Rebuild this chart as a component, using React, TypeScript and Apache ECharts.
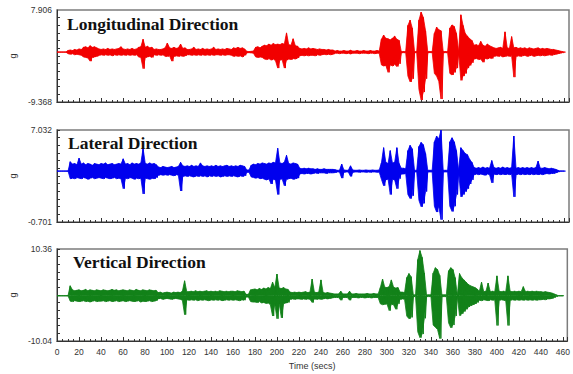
import React, { useEffect, useRef } from "react";
import * as echarts from "echarts";

// time step of the envelope bins (seconds)
const T_STEP = 2;
const X_MAX = 464;
const xTickLabelsEvery = 20;

const panelTitles = ["Longitudinal Direction", "Lateral Direction", "Vertical Direction"];
const yRanges = [
  [-9.368, 7.906],
  [-8.701, 7.032],
  [-10.04, 10.36],
];
const yTickLabels = [
  ["-9.368", "7.906"],
  ["-0.701", "7.032"],
  ["-10.04", "10.36"],
];
const colors = ["#f20000", "#0000ee", "#13821a"];

// Envelope (upper / lower, g), one value per 2 s bin (t = 0 … 460)
const longUp = [
  0, 0, 0, 0, 0, 0.3, 0.4, 0.3, 0.5, 0.4,
  0.6, 0.5, 0.9, 1.0, 0.8, 1.2, 0.9, 1.0, 0.8, 0.6,
  0.5, 0.6, 0.5, 0.7, 0.5, 0.6, 0.5, 0.6, 0.7, 1.0,
  0.6, 0.5, 0.6, 0.5, 0.7, 0.5, 0.6, 0.9, 1.0, 2.4,
  0.9, 1.1, 0.8, 0.9, 0.5, 0.6, 0.5, 0.5, 0.6, 0.8,
  1.7, 0.8, 0.7, 0.9, 0.7, 0.8, 1.5, 0.7, 0.8, 0.5,
  0.5, 0.6, 0.9, 0.5, 0.6, 0.5, 0.7, 0.5, 0.6, 0.5,
  0.6, 0.9, 0.5, 0.6, 0.5, 0.6, 0.5, 0.7, 0.6, 0.5,
  0.8, 0.7, 0.9, 0.7, 0.8, 0.6, 0.15, 0.1, 0.15, 0.2,
  0.9, 1.0, 0.8, 1.1, 1.3, 1.2, 1.5, 1.3, 1.6, 1.4,
  1.5, 1.4, 1.6, 1.5, 3.6, 1.4, 1.3, 2.5, 1.2, 1.1,
  0.7, 0.6, 0.7, 0.6, 0.8, 0.6, 0.7, 0.6, 0.5, 0.6,
  0.5, 0.5, 0.4, 0.5, 0.4, 0.4, 0.2, 0.3, 0.2, 0.2,
  0.3, 0.2, 0.2, 0.35, 0.2, 0.2, 0.3, 0.2, 0.2, 0.3,
  0.2, 0.2, 0.3, 0.2, 0.2, 0.3, 0.2, 2.4, 3.2, 2.6,
  2.5, 2.3, 2.6, 3.0, 2.4, 2.2, 0.1, 0.1, 0.1, 5.0,
  6.0, 4.5, 0.1, 0.1, 6.0, 7.5, 6.5, 4.0, 0.1, 0.1,
  0.1, 3.5, 4.7, 4.2, 4.0, 0.1, 0.1, 0.1, 4.5, 5.1,
  4.8, 3.5, 0.1, 7.0, 5.0, 3.5, 3.0, 2.5, 2.2, 1.3,
  1.4, 1.2, 2.0, 1.3, 1.1, 1.5, 1.2, 1.0, 0.8, 0.7,
  0.8, 0.9, 0.7, 3.8, 0.8, 0.7, 2.9, 0.8, 0.9, 0.7,
  0.8, 0.7, 0.8, 0.6, 0.8, 0.7, 0.6, 0.7, 0.8, 0.6,
  0.7, 0.6, 0.7, 0.6, 0.5, 0.5, 0.4, 0.3, 0.2, 0.1,
  0,
];
const longLo = [
  0, 0, 0, 0, 0, -0.3, -0.4, -0.3, -0.5, -0.4,
  -0.5, -0.6, -0.9, -1.0, -1.1, -1.7, -1.0, -0.9, -0.8, -0.6,
  -0.5, -0.6, -0.5, -0.6, -0.5, -0.7, -0.5, -0.6, -0.5, -0.6,
  -0.5, -0.6, -0.5, -0.6, -0.5, -0.6, -0.5, -0.9, -1.0, -3.1,
  -1.0, -0.9, -0.8, -1.0, -0.5, -0.6, -0.5, -0.6, -0.5, -0.8,
  -0.8, -0.7, -1.7, -0.8, -0.7, -0.8, -0.7, -0.8, -0.7, -0.5,
  -0.5, -0.6, -0.5, -0.6, -0.5, -0.6, -0.5, -0.6, -0.5, -0.6,
  -0.5, -0.6, -0.5, -0.5, -0.6, -0.5, -0.6, -0.5, -0.5, -0.6,
  -0.8, -0.7, -0.8, -0.7, -0.9, -0.6, -0.15, -0.1, -0.15, -0.2,
  -0.9, -1.0, -0.9, -1.0, -1.3, -1.4, -1.2, -1.5, -1.3, -1.6,
  -3.0, -1.5, -1.4, -3.0, -1.5, -1.3, -1.4, -1.2, -1.3, -1.1,
  -0.7, -0.6, -0.7, -0.6, -0.7, -0.6, -0.6, -0.7, -0.5, -0.6,
  -0.5, -0.4, -0.5, -0.4, -0.5, -0.4, -0.2, -0.2, -0.3, -0.2,
  -0.2, -0.3, -0.2, -0.35, -0.2, -0.2, -0.2, -0.3, -0.2, -0.2,
  -0.2, -0.3, -0.2, -0.2, -0.3, -0.2, -0.2, -2.4, -2.6, -2.5,
  -3.8, -2.4, -2.6, -2.3, -2.7, -2.2, -0.1, -0.1, -0.1, -4.5,
  -5.6, -5.0, -0.1, -0.1, -7.0, -9.0, -7.5, -5.0, -0.1, -0.1,
  -0.1, -4.0, -4.5, -5.5, -8.8, -0.1, -0.1, -0.1, -4.0, -4.3,
  -3.8, -3.0, -0.1, -5.3, -4.5, -4.0, -3.0, -2.5, -2.0, -1.3,
  -1.2, -1.4, -1.3, -1.9, -1.2, -1.3, -1.1, -1.2, -0.8, -0.7,
  -0.8, -0.7, -0.9, -0.8, -0.7, -0.8, -0.7, -4.7, -0.8, -0.7,
  -0.8, -0.7, -0.6, -0.8, -0.7, -0.6, -0.8, -0.7, -0.6, -0.7,
  -0.6, -0.7, -0.6, -0.5, -0.6, -0.5, -0.4, -0.3, -0.2, -0.1,
  0,
];

const latUp = [
  0, 0, 0, 0, 0, 0, 1.6, 1.2, 1.3, 1.1,
  2.2, 1.2, 1.4, 1.1, 1.3, 1.2, 1.0, 1.3, 1.2, 1.1,
  1.3, 1.2, 1.4, 1.1, 1.2, 1.3, 1.1, 1.2, 1.3, 1.2,
  2.1, 1.2, 1.3, 1.1, 1.4, 1.2, 1.3, 1.2, 1.4, 3.9,
  1.3, 1.2, 1.4, 1.2, 1.3, 1.1, 0.7, 0.6, 0.8, 0.7,
  0.6, 0.7, 0.8, 0.6, 0.7, 0.8, 1.5, 0.9, 0.8, 0.9,
  0.8, 1.0, 0.8, 0.9, 0.8, 1.4, 0.9, 0.8, 0.9, 0.8,
  0.9, 0.8, 1.0, 0.8, 0.9, 0.8, 0.9, 1.0, 0.8, 0.9,
  0.8, 0.9, 0.8, 1.0, 0.9, 0.8, 0.2, 0.2, 1.0, 1.2,
  1.1, 1.3, 1.2, 1.4, 1.3, 1.2, 1.4, 1.3, 1.5, 1.4,
  3.9, 1.4, 1.3, 1.5, 2.7, 1.3, 1.2, 1.4, 1.3, 1.2,
  0.5, 0.4, 0.5, 0.4, 0.5, 0.4, 0.4, 0.3, 0.4, 0.3,
  0.3, 0.4, 0.3, 0.3, 0.3, 0.3, 0.25, 0.15, 0.15, 1.2,
  0.2, 0.15, 0.15, 0.9, 0.2, 0.15, 0.15, 0.2, 0.15, 0.15,
  0.2, 0.15, 0.15, 0.2, 0.15, 0.15, 0.2, 1.4, 4.0, 1.5,
  1.3, 3.5, 1.4, 1.5, 4.0, 1.3, 0.5, 0.5, 0.4, 3.5,
  4.4, 3.8, 0.15, 0.15, 4.2, 4.9, 4.5, 3.0, 0.15, 0.15,
  0.15, 5.0, 6.0, 5.5, 7.0, 0.15, 0.15, 0.15, 5.0, 5.7,
  5.0, 3.5, 0.15, 4.0, 3.5, 3.0, 2.8, 2.0, 1.5, 0.6,
  0.5, 0.6, 0.5, 0.7, 0.5, 0.6, 0.5, 1.8, 0.6, 0.5,
  0.6, 0.5, 0.7, 0.5, 0.6, 0.5, 0.6, 6.0, 0.5, 0.6,
  0.5, 0.6, 0.5, 0.6, 0.5, 0.6, 0.5, 0.6, 1.7, 0.5,
  0.5, 0.6, 0.5, 0.4, 0.5, 0.4, 0.3, 0.15, 0, 0,
  0,
];
const latLo = [
  0, 0, 0, 0, 0, 0, -1.3, -1.2, -1.3, -1.1,
  -1.2, -1.3, -1.1, -1.2, -1.4, -1.2, -1.1, -1.3, -1.2, -1.1,
  -1.2, -1.3, -1.1, -1.2, -1.3, -1.2, -1.1, -1.3, -1.2, -1.3,
  -3.0, -1.2, -1.3, -1.1, -1.2, -1.4, -1.2, -1.3, -1.2, -3.9,
  -1.2, -1.3, -1.4, -1.2, -1.3, -1.1, -0.7, -0.6, -0.7, -0.6,
  -0.7, -0.6, -0.7, -0.8, -0.6, -0.7, -3.4, -0.9, -0.8, -0.9,
  -0.8, -0.9, -1.0, -0.8, -0.9, -0.8, -0.9, -0.8, -1.0, -0.8,
  -0.9, -0.8, -0.9, -0.8, -1.0, -0.9, -0.8, -0.9, -0.8, -0.9,
  -0.8, -0.9, -1.0, -0.8, -0.9, -0.8, -0.2, -0.2, -1.0, -1.1,
  -1.2, -1.1, -1.3, -1.2, -1.4, -1.5, -1.3, -2.2, -1.4, -1.5,
  -4.0, -1.4, -1.3, -2.5, -1.4, -1.3, -1.2, -1.4, -1.3, -1.2,
  -0.5, -0.4, -0.5, -0.4, -0.4, -0.5, -0.4, -0.3, -0.4, -0.3,
  -0.3, -0.3, -0.4, -0.3, -0.3, -0.3, -0.25, -0.15, -0.15, -1.2,
  -0.2, -0.15, -0.15, -0.9, -0.2, -0.15, -0.15, -0.2, -0.15, -0.15,
  -0.2, -0.15, -0.2, -0.15, -0.15, -0.2, -0.15, -1.4, -2.5, -1.5,
  -1.3, -4.0, -1.4, -1.5, -3.0, -1.3, -0.5, -0.5, -0.4, -4.0,
  -4.7, -4.2, -0.15, -0.15, -5.0, -6.1, -5.5, -3.5, -0.15, -0.15,
  -0.15, -6.0, -7.0, -6.0, -8.3, -0.15, -0.15, -0.15, -6.0, -6.9,
  -6.0, -4.0, -0.15, -4.4, -4.0, -3.5, -3.0, -2.2, -1.5, -0.6,
  -0.5, -0.6, -0.5, -0.6, -0.7, -0.5, -0.6, -2.0, -0.5, -0.6,
  -0.5, -0.6, -0.5, -0.6, -0.5, -0.6, -0.5, -4.4, -0.6, -0.5,
  -0.6, -0.5, -0.6, -0.5, -0.6, -0.5, -0.6, -0.5, -0.6, -0.5,
  -0.6, -0.5, -0.4, -0.5, -0.4, -0.4, -0.3, -0.15, 0, 0,
  0,
];

const vertUp = [
  0, 0, 0, 0, 0, 0, 2.2, 1.3, 1.1, 1.2,
  1.3, 1.1, 1.2, 1.4, 1.1, 1.3, 1.2, 1.1, 1.3, 1.2,
  1.1, 1.3, 1.2, 1.1, 1.2, 1.4, 1.2, 1.3, 1.1, 1.2,
  1.3, 1.2, 1.1, 1.3, 1.2, 1.1, 1.4, 1.2, 1.1, 1.3,
  1.2, 1.1, 1.3, 1.2, 1.1, 1.2, 0.7, 0.8, 0.6, 0.7,
  0.8, 0.7, 0.6, 0.8, 0.7, 0.8, 0.7, 1.0, 3.3, 0.9,
  0.9, 1.0, 0.9, 1.1, 0.9, 1.0, 0.9, 1.0, 1.1, 0.9,
  1.0, 0.9, 1.0, 0.9, 1.1, 1.0, 0.9, 1.0, 0.9, 1.0,
  1.0, 0.9, 1.1, 1.0, 0.9, 1.0, 0.3, 0.3, 1.3, 1.4,
  1.5, 1.3, 1.6, 1.4, 1.7, 1.5, 1.8, 1.6, 3.0, 1.8,
  4.8, 1.7, 1.6, 1.8, 1.5, 1.4, 0.8, 0.7, 0.8, 0.7,
  0.8, 0.7, 0.8, 0.9, 0.7, 0.8, 3.7, 0.8, 0.7, 0.8,
  3.5, 0.7, 0.6, 0.7, 0.6, 0.5, 0.4, 0.4, 0.4, 1.0,
  0.4, 0.4, 0.4, 1.0, 0.4, 0.4, 0.5, 0.4, 0.4, 0.4,
  0.4, 0.5, 0.4, 0.4, 0.5, 0.4, 0.4, 1.8, 3.7, 1.9,
  1.8, 2.0, 3.5, 1.9, 1.7, 1.8, 0.8, 0.8, 0.7, 4.0,
  4.9, 4.2, 0.2, 0.2, 8.0, 10.0, 8.5, 5.0, 0.2, 0.2,
  0.2, 5.0, 6.2, 5.8, 4.5, 0.2, 0.2, 0.2, 5.5, 6.2,
  5.8, 4.0, 0.2, 4.9, 4.0, 3.5, 3.0, 2.5, 2.2, 2.0,
  1.8, 1.5, 1.0, 3.0, 0.9, 1.0, 2.8, 0.9, 1.0, 0.9,
  4.4, 1.0, 0.9, 1.0, 0.9, 4.4, 1.0, 0.9, 1.0, 0.9,
  1.0, 0.9, 2.0, 0.9, 1.0, 0.9, 1.0, 0.9, 1.0, 0.9,
  0.9, 0.8, 0.9, 0.8, 0.7, 0.6, 0.4, 0.2, 0, 0,
  0,
];
const vertLo = [
  0, 0, 0, 0, 0, 0, -1.2, -1.3, -1.1, -1.2,
  -1.3, -1.2, -1.1, -1.3, -1.2, -1.4, -1.2, -1.1, -1.3, -1.2,
  -1.2, -1.1, -1.3, -1.2, -1.1, -1.3, -1.2, -1.1, -1.3, -1.2,
  -1.1, -1.3, -1.2, -1.1, -1.2, -1.3, -1.2, -1.1, -1.4, -1.2,
  -1.3, -1.2, -1.1, -1.3, -1.2, -1.1, -0.7, -0.6, -0.8, -0.7,
  -0.6, -0.7, -0.8, -0.7, -0.6, -0.7, -0.8, -1.0, -4.2, -0.9,
  -1.0, -0.9, -1.0, -0.9, -1.1, -0.9, -1.0, -0.9, -1.0, -1.1,
  -0.9, -1.0, -0.9, -1.0, -0.9, -1.1, -1.0, -0.9, -1.0, -0.9,
  -1.0, -0.9, -1.0, -1.1, -0.9, -1.0, -0.3, -0.3, -1.3, -1.4,
  -1.4, -1.5, -1.3, -1.6, -1.5, -1.7, -1.6, -2.0, -4.5, -1.8,
  -5.1, -1.8, -4.9, -1.7, -1.6, -1.5, -0.8, -0.7, -0.8, -0.7,
  -0.7, -0.8, -0.7, -0.8, -0.7, -0.8, -1.5, -0.7, -0.8, -0.7,
  -0.8, -0.7, -0.6, -0.7, -0.6, -0.5, -0.4, -0.4, -0.4, -1.0,
  -0.4, -0.4, -0.4, -1.0, -0.4, -0.4, -0.4, -0.5, -0.4, -0.4,
  -0.5, -0.4, -0.4, -0.5, -0.4, -0.4, -0.4, -1.8, -2.0, -1.9,
  -1.8, -3.3, -1.9, -2.0, -3.0, -1.8, -0.8, -0.7, -0.8, -4.5,
  -5.1, -4.8, -0.2, -0.2, -8.0, -9.3, -8.5, -5.0, -0.2, -0.2,
  -0.2, -6.5, -7.0, -7.5, -9.5, -0.2, -0.2, -0.2, -6.0, -7.1,
  -6.5, -4.5, -0.2, -4.4, -4.0, -3.5, -3.0, -2.5, -2.2, -2.0,
  -1.8, -1.5, -1.0, -1.1, -0.9, -1.0, -1.1, -0.9, -1.0, -0.9,
  -6.6, -1.0, -0.9, -1.0, -1.1, -6.6, -1.0, -0.9, -1.0, -0.9,
  -1.0, -0.9, -1.0, -0.9, -1.0, -0.9, -1.0, -0.9, -1.0, -0.9,
  -0.9, -0.8, -0.9, -0.7, -0.7, -0.6, -0.4, -0.2, 0, 0,
  0,
];

const uppers = [longUp, latUp, vertUp];
const lowers = [longLo, latLo, vertLo];

const gridTops = [10, 130, 249];
const GRID_H = 92;
const titleLeft = [67, 68, 73];
const titleTop = [15, 134, 253];

function zigzag(up: number[], lo: number[]) {
  const pts: number[][] = [];
  up.forEach((u, i) => {
    pts.push([i * T_STEP, u]);
    pts.push([i * T_STEP + 1, lo[i]]);
  });
  return pts;
}
function envelope(vals: number[]) {
  return vals.map((v, i) => [i * T_STEP, v]);
}

export default function App() {
  const ref = useRef<HTMLDivElement>(null);
  useEffect(() => {
    if (!ref.current) return;
    const chart = echarts.init(ref.current, null, { renderer: "svg" });
    const grid = gridTops.map((top) => ({
      left: 55,
      right: 4,
      top,
      height: GRID_H,
      show: true,
      borderColor: "#7c7c7c",
      borderWidth: 1.5,
      backgroundColor: "#fff",
    }));
    const xAxis = gridTops.map((_, k) => ({
      type: "value",
      gridIndex: k,
      min: 0,
      max: X_MAX,
      interval: xTickLabelsEvery,
      axisLine: { show: true, onZero: false, lineStyle: { color: "#333", width: 1 } },
      axisTick: { show: true, inside: true, length: 4, lineStyle: { color: "#333" } },
      minorTick: { show: true, splitNumber: 4, length: 2, lineStyle: { color: "#333" } },
      splitLine: { show: false },
      axisLabel: {
        show: k === 2,
        showMaxLabel: false,
        fontSize: 8.5,
        color: "#333",
        fontFamily: "Liberation Sans",
        margin: 6,
      },
      name: k === 2 ? "Time (secs)" : "",
      nameLocation: "middle",
      nameGap: 20,
      nameTextStyle: { fontSize: 9, color: "#333", fontFamily: "Liberation Sans" },
    }));
    const yAxis = yRanges.map(([mn, mx], k) => ({
      type: "value",
      gridIndex: k,
      min: mn,
      max: mx,
      splitLine: { show: false },
      axisLine: { show: true, onZero: false, lineStyle: { color: "#333", width: 1 } },
      axisTick: {
        show: true,
        inside: true,
        length: 3,
        lineStyle: { color: "#333" },
        customValues: Array.from({ length: 13 }, (_, j) => mn + (j * (mx - mn)) / 12),
      },
      axisLabel: {
        customValues: [mn, mx],
        formatter: (v: number) => (Math.abs(v - mn) < 1e-6 ? yTickLabels[k][0] : yTickLabels[k][1]),
        fontSize: 8.5,
        color: "#333",
        fontFamily: "Liberation Sans",
        margin: 5,
      },
      name: "g",
      nameLocation: "middle",
      nameGap: 40,
      nameRotate: 90,
      nameTextStyle: { fontSize: 9, color: "#333", fontFamily: "Liberation Sans" },
    }));
    const series: any[] = [];
    uppers.forEach((up, k) => {
      [up, lowers[k]].forEach((vals) => {
        series.push({
          type: "line",
          xAxisIndex: k,
          yAxisIndex: k,
          data: envelope(vals),
          showSymbol: false,
          symbol: "none",
          lineStyle: { color: colors[k], width: 0.8 },
          areaStyle: { color: colors[k], opacity: 1 },
          silent: true,
        });
      });
      series.push({
        type: "line",
        xAxisIndex: k,
        yAxisIndex: k,
        data: zigzag(up, lowers[k]),
        showSymbol: false,
        symbol: "none",
        lineStyle: { color: colors[k], width: 1 },
        silent: true,
      });
    });
    const title = panelTitles.map((text, k) => ({
      text,
      left: titleLeft[k],
      top: titleTop[k],
      padding: 0,
      textStyle: {
        fontFamily: "Liberation Serif",
        fontWeight: "bold",
        fontSize: 17.5,
        color: "#111",
      },
    }));
    chart.setOption({
      animation: false,
      backgroundColor: "#fff",
      title,
      grid,
      xAxis,
      yAxis,
      series,
    });
    return () => chart.dispose();
  }, []);
  return (
    <div
      ref={ref}
      style={{ position: "absolute", left: 0, top: 0, width: 573, height: 374, background: "#fff" }}
    />
  );
}
